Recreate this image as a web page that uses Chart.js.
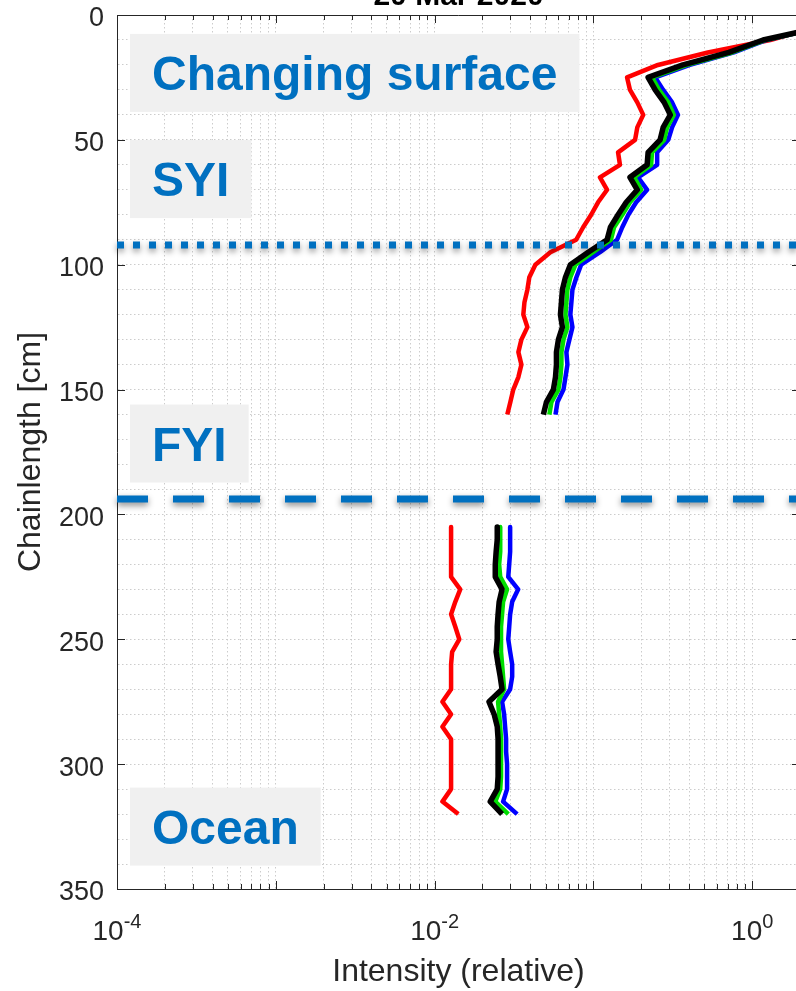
<!DOCTYPE html>
<html>
  <head>
    <title>Chain intensity profile</title>
    <script src="https://cdn.jsdelivr.net/npm/chart.js"></script>
    <style>
      body {
        background: #fff;
        margin: 0;
      }
      .frame {
        height: 991px;
        overflow: hidden;
        width: 796px;
      }
      .container {
        height: 991px;
        position: relative;
        width: 801px;
      }
    </style>
  </head>
  <body>
    <div class="frame">
      <div class="container">
        <canvas id="chart"></canvas>
      </div>
    </div>

    <script>
      // Chain depth of each sensor row (cm); 165-200 has no reading
      const chainDepth = [
        5, 10, 15, 20, 25, 30, 35, 40, 45, 50, 55, 60, 65, 70, 75, 80,
        85, 90, 95, 100, 105, 110, 115, 120, 125, 130, 135, 140, 145, 150, 155, 160,
        165, 170, 175, 180, 185, 190, 195, 200,
        205, 210, 215, 220, 225, 230, 235, 240, 245, 250, 255, 260,
        265, 270, 275, 280, 285, 290, 295, 300, 305, 310, 315, 320
      ];

      const blackIntensity = [
        2.68, 1.17, 0.713, 0.366, 0.221, 0.245, 0.279, 0.305, 0.275, 0.263, 0.221, 0.218, 0.170, 0.189, 0.161, 0.143,
        0.128, 0.122, 0.0927, 0.0716, 0.0667, 0.0638, 0.0629, 0.0620, 0.0638, 0.0602, 0.0585, 0.0585, 0.0577, 0.0560, 0.0506, 0.0484,
        null, null, null, null, null, null, null, null,
        0.0248, 0.0248, 0.0244, 0.0241, 0.0241, 0.0266, 0.0255, 0.0251, 0.0248, 0.0248, 0.0244, 0.0251,
        0.0259, 0.0266, 0.0220, 0.0237, 0.0248, 0.0251, 0.0251, 0.0251, 0.0251, 0.0248, 0.0224, 0.0266
      ];

      const greenIntensity = [
        2.68, 1.21, 0.745, 0.388, 0.234, 0.259, 0.296, 0.321, 0.291, 0.279, 0.234, 0.231, 0.181, 0.200, 0.170, 0.152,
        0.135, 0.129, 0.0996, 0.0771, 0.0716, 0.0686, 0.0676, 0.0667, 0.0686, 0.0648, 0.0629, 0.0629, 0.0620, 0.0602, 0.0544, 0.0528,
        null, null, null, null, null, null, null, null,
        0.0259, 0.0259, 0.0259, 0.0255, 0.0259, 0.0286, 0.0270, 0.0266, 0.0262, 0.0262, 0.0262, 0.0266,
        0.0270, 0.0274, 0.0251, 0.0255, 0.0259, 0.0262, 0.0262, 0.0262, 0.0262, 0.0259, 0.0241, 0.0291
      ];

      const blueIntensity = [
        2.68, 1.23, 0.767, 0.405, 0.245, 0.275, 0.313, 0.341, 0.313, 0.296, 0.252, 0.252, 0.191, 0.218, 0.186, 0.166,
        0.152, 0.141, 0.110, 0.0837, 0.0782, 0.0738, 0.0727, 0.0716, 0.0738, 0.0706, 0.0676, 0.0686, 0.0667, 0.0648, 0.0594, 0.0577,
        null, null, null, null, null, null, null, null,
        0.0299, 0.0299, 0.0299, 0.0295, 0.0291, 0.0336, 0.0308, 0.0299, 0.0295, 0.0291, 0.0299, 0.0308,
        0.0308, 0.0299, 0.0266, 0.0274, 0.0278, 0.0282, 0.0282, 0.0286, 0.0286, 0.0286, 0.0270, 0.0331
      ];

      const redIntensity = [
        2.49, 1.30, 0.526, 0.255, 0.163, 0.170, 0.189, 0.206, 0.189, 0.183, 0.143, 0.147, 0.110, 0.122, 0.107, 0.0968,
        0.0862, 0.0779, 0.0536, 0.0431, 0.0395, 0.0384, 0.0368, 0.0362, 0.0384, 0.0352, 0.0337, 0.0352, 0.0337, 0.0313, 0.0300, 0.0287,
        null, null, null, null, null, null, null, null,
        0.0127, 0.0127, 0.0127, 0.0127, 0.0127, 0.0145, 0.0135, 0.0127, 0.0135, 0.0143, 0.0129, 0.0127,
        0.0127, 0.0127, 0.0112, 0.0127, 0.0112, 0.0127, 0.0127, 0.0127, 0.0127, 0.0127, 0.0112, 0.0141
      ];

      const plotTitle = '20 Mar 2020';
      const xTickExponents = [-4, -2, 0];
      const yTickStep = 50;

      // Layer boundaries (cm) and the names written in each layer
      const layerBounds = [92.1, 193.8];
      const layerNames = ['Changing surface', 'SYI', 'FYI', 'Ocean'];
      const layerNameDepth = [23.2, 65.7, 171.6, 325];

      const FONT = "'Liberation Sans', Arial, sans-serif";
      const AXIS_COLOR = '#262626';
      const GRID_COLOR = '#cccccc';

      // minor log grid: 1..9 x each decade up to xlim
      const X_MIN = 1e-4;
      const X_MAX = 2;
      const xGrid = [];
      for (let e = -4; e <= 0; e++) {
        for (let m = 1; m <= 9; m++) {
          const v = m * Math.pow(10, e);
          if (v <= X_MAX) xGrid.push(v);
        }
      }

      function toPoints(values) {
        return values.map((v, i) => ({ x: v, y: v === null ? null : chainDepth[i] }));
      }

      function series(values, color, width) {
        return {
          data: toPoints(values),
          borderColor: color,
          borderWidth: width,
          borderJoinStyle: 'round',
          pointRadius: 0,
          tension: 0,
          spanGaps: false
        };
      }

      // Extra drawing: label boxes, layer lines, inward ticks, x labels, title
      const decor = {
        id: 'decor',
        beforeDatasetsDraw(chart) {
          const { ctx, chartArea, scales: { y } } = chart;
          ctx.save();
          ctx.font = 'bold 48px ' + FONT;
          ctx.textBaseline = 'alphabetic';
          layerNames.forEach((name, i) => {
            const cy = y.getPixelForValue(layerNameDepth[i]);
            const w = ctx.measureText(name).width + 44;
            ctx.fillStyle = '#f0f0f0';
            ctx.fillRect(chartArea.left + 13, cy - 39, w, 78);
            ctx.fillStyle = '#0070c0';
            ctx.fillText(name, chartArea.left + 35, cy + 17);
          });
          ctx.restore();
        },
        afterDatasetsDraw(chart) {
          const { ctx, chartArea, scales: { y } } = chart;
          const dashes = [[7, 9], [31, 25]];
          layerBounds.forEach((d, i) => {
            const py = y.getPixelForValue(d);
            ctx.save();
            ctx.strokeStyle = '#0070c0';
            ctx.lineWidth = 7;
            ctx.lineCap = 'butt';
            ctx.setLineDash(dashes[i]);
            ctx.shadowColor = 'rgba(0, 0, 0, 0.45)';
            ctx.shadowBlur = 6;
            ctx.shadowOffsetY = 3;
            ctx.beginPath();
            ctx.moveTo(chartArea.left, py);
            ctx.lineTo(chart.width, py);
            ctx.stroke();
            ctx.restore();
          });
        },
        afterDraw(chart) {
          const { ctx, chartArea, scales: { x, y } } = chart;
          const { left, right, top, bottom } = chartArea;
          ctx.save();
          ctx.strokeStyle = AXIS_COLOR;
          ctx.lineWidth = 1;
          ctx.beginPath();
          // top and right edges of the box
          ctx.moveTo(left, top + 0.5);
          ctx.lineTo(right, top + 0.5);
          ctx.moveTo(right - 0.5, top);
          ctx.lineTo(right - 0.5, bottom);
          // inward x ticks
          xGrid.forEach(v => {
            const px = Math.round(x.getPixelForValue(v)) + 0.5;
            const len = Number.isInteger(Math.log10(v)) ? 8 : 5;
            ctx.moveTo(px, bottom);
            ctx.lineTo(px, bottom - len);
            ctx.moveTo(px, top);
            ctx.lineTo(px, top + len);
          });
          // inward y ticks
          for (let d = 0; d <= 350; d += yTickStep) {
            const py = Math.round(y.getPixelForValue(d)) + 0.5;
            ctx.moveTo(left, py);
            ctx.lineTo(left + 8, py);
            ctx.moveTo(right, py);
            ctx.lineTo(right - 8, py);
          }
          ctx.stroke();

          // x tick labels as powers of ten
          ctx.fillStyle = AXIS_COLOR;
          ctx.textBaseline = 'alphabetic';
          ctx.textAlign = 'left';
          xTickExponents.forEach(e => {
            const px = x.getPixelForValue(Math.pow(10, e));
            ctx.font = '28px ' + FONT;
            const wb = ctx.measureText('10').width;
            ctx.font = '20px ' + FONT;
            const sup = String(e);
            const ws = ctx.measureText(sup).width;
            const start = px - (wb + ws) / 2;
            ctx.font = '28px ' + FONT;
            ctx.fillText('10', start, 940);
            ctx.font = '20px ' + FONT;
            ctx.fillText(sup, start + wb, 928);
          });

          // title, mostly above the top of the page
          ctx.fillStyle = '#000';
          ctx.font = 'bold 30px ' + FONT;
          ctx.textAlign = 'center';
          ctx.fillText(plotTitle, (left + right) / 2, 5);
          ctx.restore();
        }
      };

      const ctx = document.getElementById('chart').getContext('2d');

      new Chart(ctx, {
        type: 'line',
        data: {
          datasets: [
            series(blackIntensity, '#000000', 5.5),
            series(greenIntensity, '#00dd00', 4.5),
            series(blueIntensity, '#0000ff', 4.5),
            series(redIntensity, '#ff0000', 4.5)
          ]
        },
        options: {
          responsive: true,
          maintainAspectRatio: false,
          animation: false,
          layout: {
            padding: { top: 15, right: 1, bottom: 0, left: 0 }
          },
          scales: {
            x: {
              type: 'logarithmic',
              position: 'bottom',
              min: X_MIN,
              max: X_MAX,
              afterBuildTicks(scale) {
                scale.ticks = xGrid.map(v => ({ value: v }));
              },
              afterFit(scale) {
                scale.height = 102;
              },
              ticks: { display: false },
              grid: {
                color: GRID_COLOR,
                lineWidth: 1,
                drawTicks: false
              },
              border: {
                display: true,
                color: AXIS_COLOR,
                width: 1,
                dash: [1.5, 2.5]
              },
              title: {
                display: true,
                text: 'Intensity (relative)',
                color: AXIS_COLOR,
                font: { family: FONT, size: 32 },
                padding: { top: 0, bottom: 0 }
              }
            },
            y: {
              type: 'linear',
              reverse: true,
              min: 0,
              max: 350,
              afterFit(scale) {
                scale.width = 117;
              },
              ticks: {
                stepSize: 10,
                maxTicksLimit: 100,
                autoSkip: false,
                padding: 13,
                labelOffset: 4,
                color: AXIS_COLOR,
                font: { family: FONT, size: 27, lineHeight: 0.1 },
                callback: v => (v % yTickStep === 0 ? v : '')
              },
              grid: {
                color: GRID_COLOR,
                lineWidth: 1,
                drawTicks: false
              },
              border: {
                display: true,
                color: AXIS_COLOR,
                width: 1,
                dash: [1.5, 2.5]
              },
              title: {
                display: true,
                text: 'Chainlength [cm]',
                color: AXIS_COLOR,
                font: { family: FONT, size: 32 },
                padding: { top: 12, bottom: 0 }
              }
            }
          },
          plugins: {
            legend: { display: false },
            tooltip: { enabled: false }
          }
        },
        plugins: [decor]
      });
    </script>
  </body>
</html>
